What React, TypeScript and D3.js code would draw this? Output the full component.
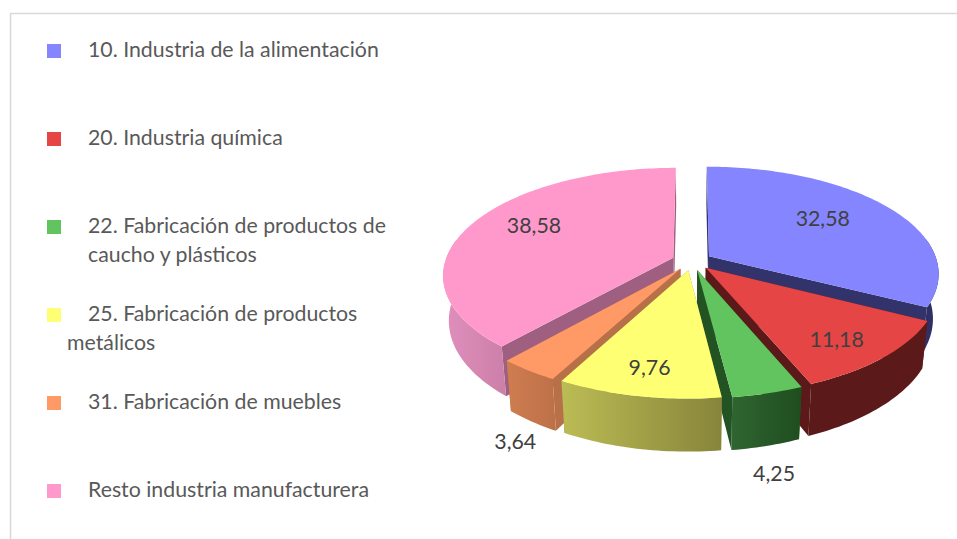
import React from "react";
import * as d3 from "d3";

const categories = [
  "10. Industria de la alimentación",
  "20. Industria química",
  "22. Fabricación de productos de caucho y plásticos",
  "25. Fabricación de productos metálicos",
  "31. Fabricación de muebles",
  "Resto industria manufacturera",
];
const values = [32.58, 11.18, 4.25, 9.76, 3.64, 38.58];
const valueLabels = ["32,58", "11,18", "4,25", "9,76", "3,64", "38,58"];

const topColors = ["#8585ff", "#e54545", "#62c45f", "#ffff73", "#ff9966", "#ff99cc"];
const cutColors = ["#33336b", "#5c1919", "#235223", "#8a8a3c", "#b87048", "#9e5f80"];
const wallFrom = ["#33336b", "#5c1919", "#2f6530", "#bcbc55", "#cf7d50", "#e08fbc"];
const wallTo = ["#2c2c60", "#5c1919", "#1f4d1f", "#87853a", "#bd7048", "#cc7fa8"];

// label placement in pie space: radius factor and drop below the top face
const labelRadius = [0.62, 0.76, 1.1, 0.8, 1.1, 0.68];
const labelDrop = [-0.15, 0.1, 1.2, 0, 1.13, -0.2];

// legend rows: wrapped lines, with the hanging indent of each continuation
const legendLines = [
  [{ t: categories[0], dx: 0 }],
  [{ t: categories[1], dx: 0 }],
  [{ t: "22. Fabricación de productos de", dx: 0 }, { t: "caucho y plásticos", dx: 0 }],
  [{ t: "25. Fabricación de productos", dx: 0 }, { t: "metálicos", dx: -21 }],
  [{ t: categories[4], dx: 0 }],
  [{ t: categories[5], dx: 0 }],
];

const W = 957;
const H = 539;
const CX = 692;
const CY = 261;
const RX = 228;
const RY = 105;
const PERSP = 0.157;
const EXPLODE = 0.088;
const DEPTH = 44;
const TAPER = 0.023;
const FONT = "Lato, Carlito, Calibri, sans-serif";

type P = [number, number];

function project(gx: number, gy: number, z = 0): P {
  const s = 1 / (1 + PERSP * gy);
  return [CX + RX * gx * s * (1 - TAPER * z), CY - RY * gy * s + DEPTH * z * s];
}

const line = d3.line<P>().x((d) => d[0]).y((d) => d[1]);

const arcs = d3.pie<number>().sort(null).startAngle(0).endAngle(2 * Math.PI)(values);

function geometry(i: number) {
  const a = arcs[i];
  const mid = (a.startAngle + a.endAngle) / 2;
  const ox = EXPLODE * Math.sin(mid);
  const oy = EXPLODE * Math.cos(mid);
  const at = (ang: number, r: number, z = 0) => project(ox + r * Math.sin(ang), oy + r * Math.cos(ang), z);
  const sample = (from: number, to: number, z: number) => {
    const n = Math.max(2, Math.ceil((to - from) / 0.02));
    return d3.range(n + 1).map((k) => at(from + ((to - from) * k) / n, 1, z));
  };
  return { a, mid, at, sample };
}

export default function App() {
  return (
    <svg width={W} height={H} style={{ position: "absolute", left: 0, top: 0, display: "block", background: "#fff" }}>
      <defs>
        {values.map((_, i) => (
          <linearGradient key={i} id={`wall${i}`} x1="0" x2="1" y1="0" y2="0">
            <stop offset="0" stopColor={wallFrom[i]} />
            <stop offset="1" stopColor={wallTo[i]} />
          </linearGradient>
        ))}
      </defs>
      <path d={`M10.5 ${H}V13.5H${W}`} fill="none" stroke="#d9d9d9" strokeWidth={1.6} />

      {categories.map((_, i) => (
        <g key={i}>
          <rect x={47} y={44 + i * 88} width={14} height={14} fill={topColors[i]} />
          {legendLines[i].map((l, j) => (
            <text key={j} x={88 + l.dx} y={57 + i * 88 + j * 29} fontFamily={FONT} fontSize={21.3} fill="#595959">
              {l.t}
            </text>
          ))}
        </g>
      ))}

      {[0, 5, 1, 4, 2, 3].map((i) => {
        const { a, at, sample } = geometry(i);
        const wallStart = Math.max(a.startAngle, (80 * Math.PI) / 180);
        const wallEnd = Math.min(a.endAngle, (280 * Math.PI) / 180);
        const top = sample(a.startAngle, a.endAngle, 0);
        const apex = at(0, 0, 0);
        const apexLow = at(0, 0, 1);
        const startCut: P[] = [apex, top[0], at(a.startAngle, 1, 1), apexLow];
        const endCut: P[] = [apex, top[top.length - 1], at(a.endAngle, 1, 1), apexLow];
        const wall: P[] = [...sample(wallStart, wallEnd, 0), ...sample(wallStart, wallEnd, 1).reverse()];
        return (
          <g key={i}>
            <path d={line(startCut) + "Z"} fill={cutColors[i]} />
            <path d={line(endCut) + "Z"} fill={cutColors[i]} />
            <path d={line(wall) + "Z"} fill={`url(#wall${i})`} />
            <path d={line([apex, ...top]) + "Z"} fill={topColors[i]} />
          </g>
        );
      })}

      {values.map((_, i) => {
        const { mid, at } = geometry(i);
        const [x, y] = at(mid, labelRadius[i], labelDrop[i]);
        return (
          <text key={i} x={x} y={y} textAnchor="middle" dominantBaseline="central" fontFamily={FONT} fontSize={21.3} fill="#404040">
            {valueLabels[i]}
          </text>
        );
      })}
    </svg>
  );
}
